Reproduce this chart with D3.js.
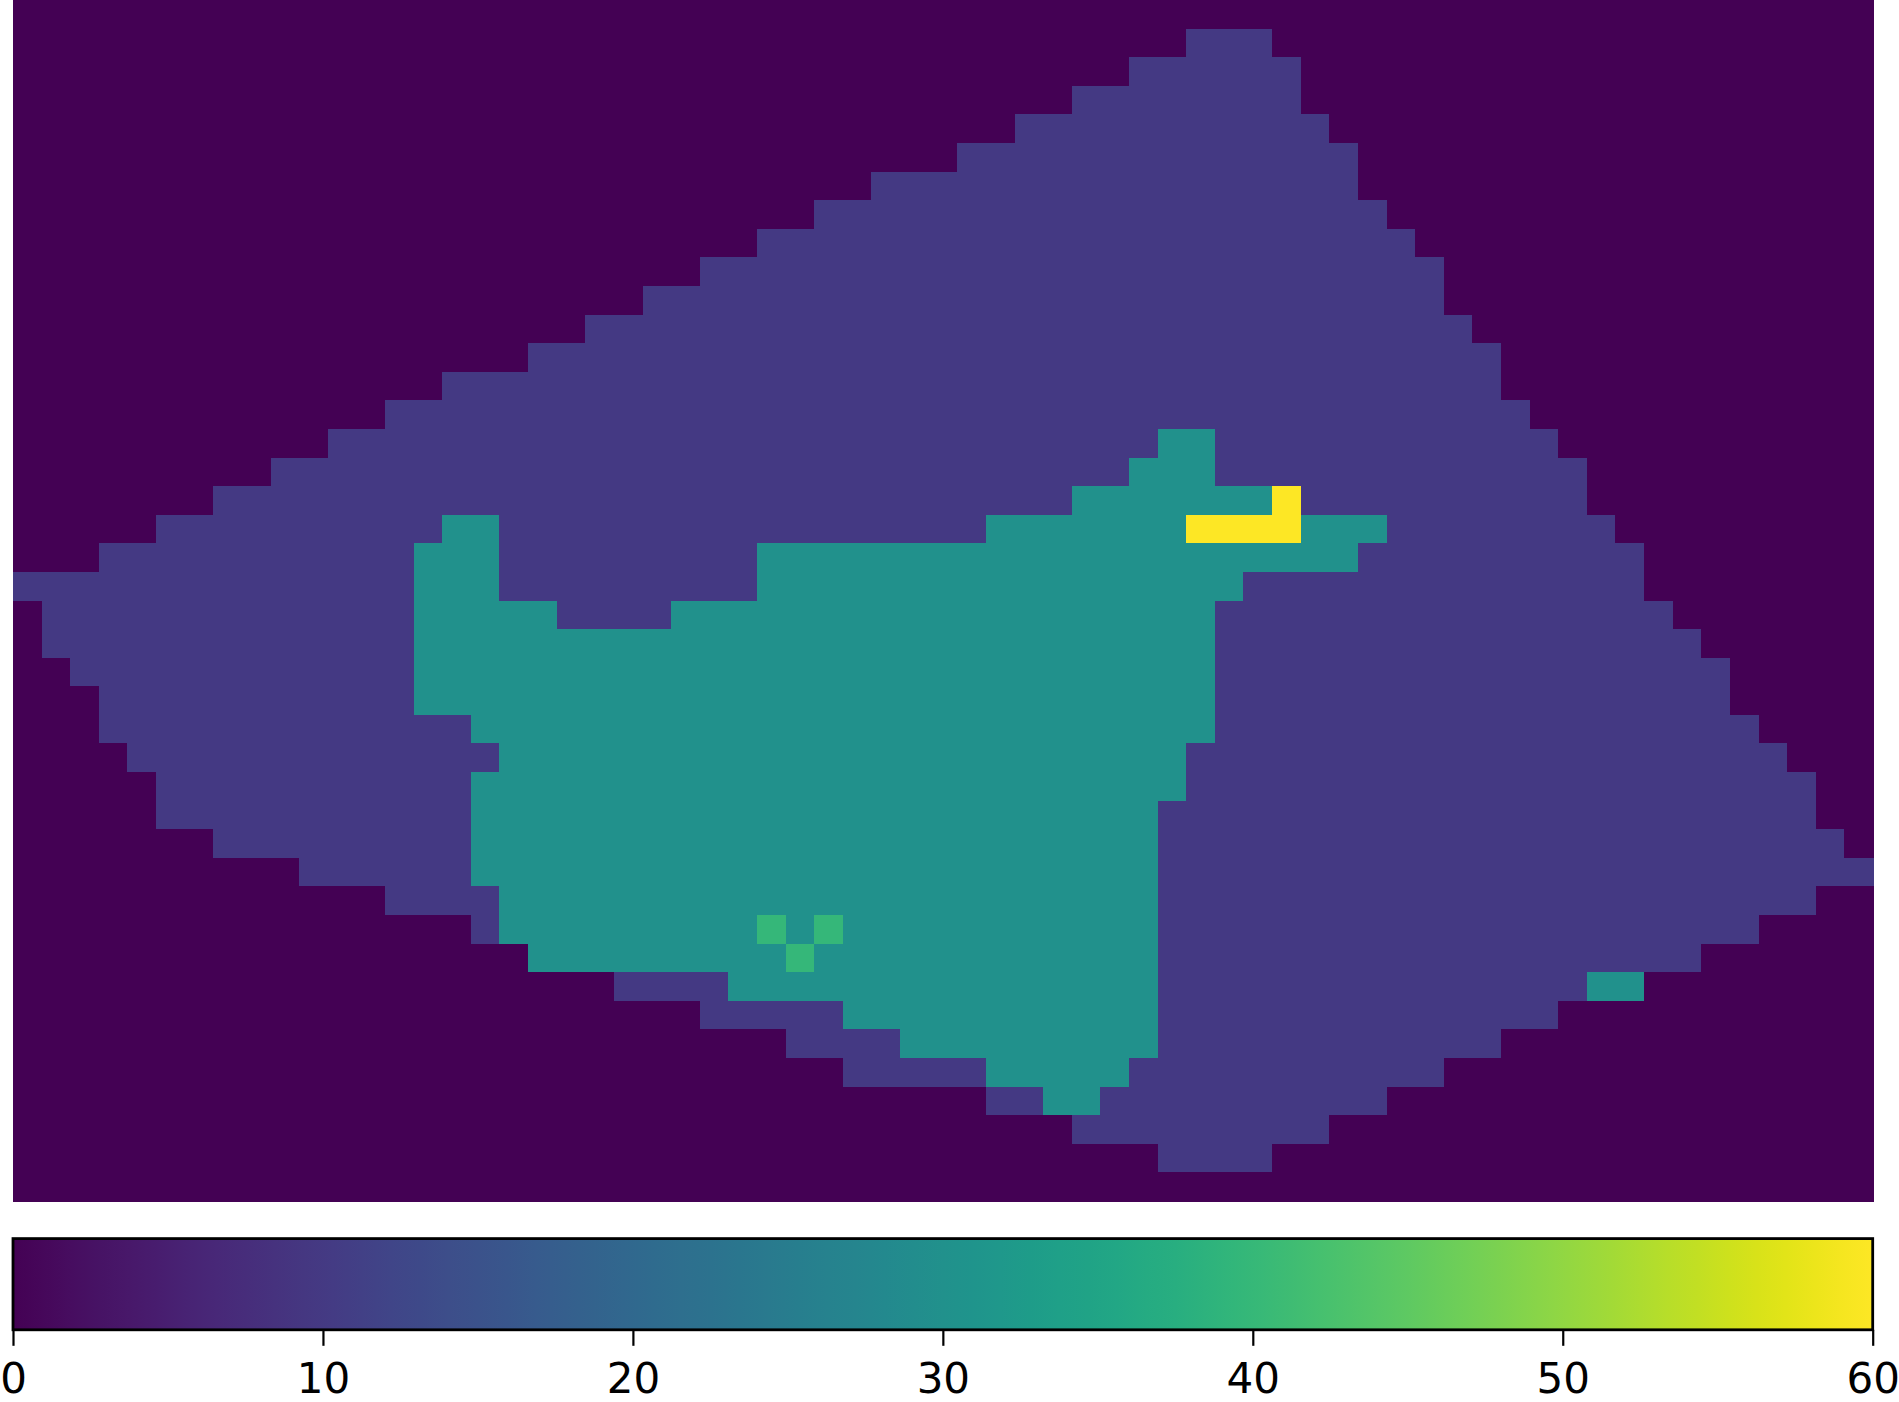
<!DOCTYPE html>
<html>
<head>
<meta charset="utf-8">
<script src="https://cdn.jsdelivr.net/npm/d3@7"></script>
<style>
  html, body { margin: 0; padding: 0; background: #ffffff; }
  svg { display: block; }
</style>
</head>
<body>
<svg id="chart" width="1899" height="1402"></svg>
<script>
// ---- DATA ----
// Grid of 42 rows x 65 columns, each row given as runs of [value, count] (left to right).
const nCols = 65;
const nRows = 42;
const rowRuns = [
  [[0,65]],
  [[0,41],[10,3],[0,21]],
  [[0,39],[10,6],[0,20]],
  [[0,37],[10,8],[0,20]],
  [[0,35],[10,11],[0,19]],
  [[0,33],[10,14],[0,18]],
  [[0,30],[10,17],[0,18]],
  [[0,28],[10,20],[0,17]],
  [[0,26],[10,23],[0,16]],
  [[0,24],[10,26],[0,15]],
  [[0,22],[10,28],[0,15]],
  [[0,20],[10,31],[0,14]],
  [[0,18],[10,34],[0,13]],
  [[0,15],[10,37],[0,13]],
  [[0,13],[10,40],[0,12]],
  [[0,11],[10,29],[30,2],[10,12],[0,11]],
  [[0,9],[10,30],[30,3],[10,13],[0,10]],
  [[0,7],[10,30],[30,7],[60,1],[10,10],[0,10]],
  [[0,5],[10,10],[30,2],[10,17],[30,7],[60,4],[30,3],[10,8],[0,9]],
  [[0,3],[10,11],[30,3],[10,9],[30,21],[10,10],[0,8]],
  [[10,14],[30,3],[10,9],[30,17],[10,14],[0,8]],
  [[0,1],[10,13],[30,5],[10,4],[30,19],[10,16],[0,7]],
  [[0,1],[10,13],[30,28],[10,17],[0,6]],
  [[0,2],[10,12],[30,28],[10,18],[0,5]],
  [[0,3],[10,11],[30,28],[10,18],[0,5]],
  [[0,3],[10,13],[30,26],[10,19],[0,4]],
  [[0,4],[10,13],[30,24],[10,21],[0,3]],
  [[0,5],[10,11],[30,25],[10,22],[0,2]],
  [[0,5],[10,11],[30,24],[10,23],[0,2]],
  [[0,7],[10,9],[30,24],[10,24],[0,1]],
  [[0,10],[10,6],[30,24],[10,25]],
  [[0,13],[10,4],[30,23],[10,23],[0,2]],
  [[0,16],[10,1],[30,9],[40,1],[30,1],[40,1],[30,11],[10,21],[0,4]],
  [[0,18],[30,9],[40,1],[30,12],[10,19],[0,6]],
  [[0,21],[10,4],[30,15],[10,15],[30,2],[0,8]],
  [[0,24],[10,5],[30,11],[10,14],[0,11]],
  [[0,27],[10,4],[30,9],[10,12],[0,13]],
  [[0,29],[10,5],[30,5],[10,11],[0,15]],
  [[0,34],[10,2],[30,2],[10,10],[0,17]],
  [[0,37],[10,9],[0,19]],
  [[0,40],[10,4],[0,21]],
  [[0,65]]
];
const colorDomain = [0, 60];
const colorTicks = [0, 10, 20, 30, 40, 50, 60];

// ---- BUILD CELLS ----
const cells = [];
rowRuns.forEach((runs, r) => {
  let c = 0;
  runs.forEach(([v, n]) => {
    for (let k = 0; k < n; k++) { cells.push({ row: r, col: c, value: v }); c++; }
  });
});

// ---- LAYOUT ----
const svg = d3.select("#chart");
const heat = { left: 13, right: 1873, top: 0, bottom: 1201 };
const cbar = { left: 13, right: 1872.7, top: 1238.6, bottom: 1329.8 };

const x = d3.scaleBand().domain(d3.range(nCols)).range([heat.left, heat.right]).padding(0);
const y = d3.scaleBand().domain(d3.range(nRows)).range([heat.top, heat.bottom]).padding(0);
const color = d3.scaleSequential(d3.interpolateViridis).domain(colorDomain);

svg.append("g")
  .attr("shape-rendering", "crispEdges")
  .selectAll("rect")
  .data(cells)
  .join("rect")
  .attr("x", d => x(d.col))
  .attr("y", d => y(d.row))
  .attr("width", x.bandwidth() + 0.6)
  .attr("height", y.bandwidth() + 0.6)
  .attr("fill", d => color(d.value));

// ---- COLORBAR ----
const defs = svg.append("defs");
const grad = defs.append("linearGradient").attr("id", "viridisGrad")
  .attr("x1", "0%").attr("x2", "100%").attr("y1", "0%").attr("y2", "0%");
const nStops = 64;
d3.range(nStops + 1).forEach(i => {
  const t = i / nStops;
  grad.append("stop").attr("offset", (t * 100) + "%").attr("stop-color", d3.interpolateViridis(t));
});

svg.append("rect")
  .attr("x", cbar.left).attr("y", cbar.top)
  .attr("width", cbar.right - cbar.left).attr("height", cbar.bottom - cbar.top)
  .attr("fill", "url(#viridisGrad)");

svg.append("rect")
  .attr("x", cbar.left).attr("y", cbar.top)
  .attr("width", cbar.right - cbar.left).attr("height", cbar.bottom - cbar.top)
  .attr("fill", "none").attr("stroke", "#000").attr("stroke-width", 2.8);

const cx = d3.scaleLinear().domain(colorDomain).range([cbar.left, cbar.right]);
const axis = svg.append("g")
  .attr("transform", `translate(0,${cbar.bottom})`)
  .call(d3.axisBottom(cx).tickValues(colorTicks).tickFormat(d3.format("d")).tickSize(16).tickPadding(17));
axis.select(".domain").remove();
axis.selectAll(".tick line").attr("stroke", "#000").attr("stroke-width", 2.2);
axis.selectAll(".tick text")
  .attr("fill", "#000")
  .style("font-family", "'DejaVu Sans', sans-serif")
  .style("font-size", "42px");
</script>
</body>
</html>
